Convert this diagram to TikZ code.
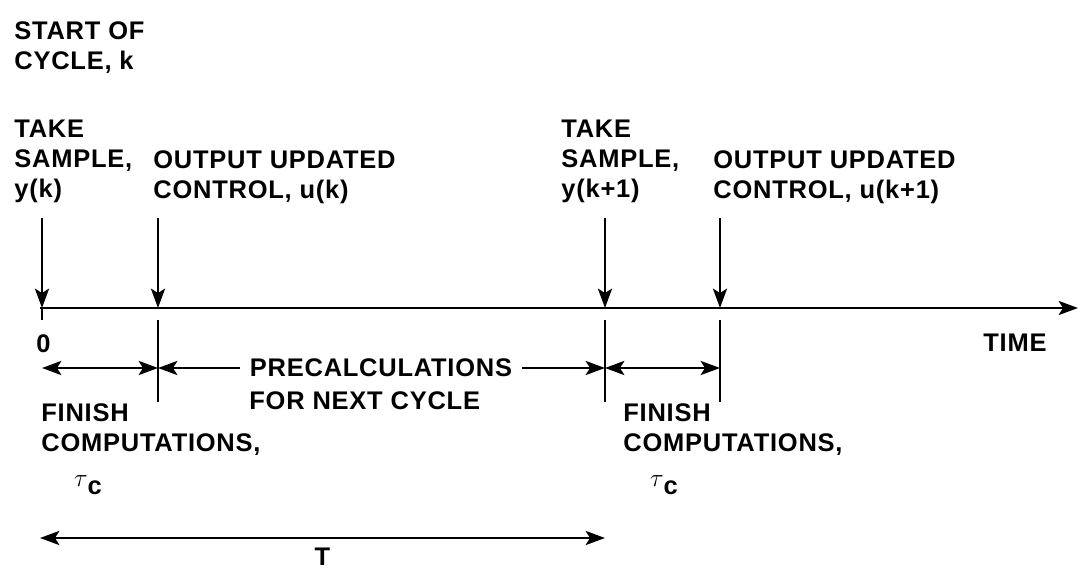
\documentclass[tikz,border=0pt]{standalone}
\usepackage{fontspec}
\setmainfont{Liberation Sans}[LetterSpace=3]
\usetikzlibrary{arrows.meta}
\begin{document}
\begin{tikzpicture}[x=0.02cm,y=-0.02cm,line width=1.6pt,
  every node/.style={font=\fontsize{14.5}{17}\selectfont\bfseries,inner sep=0pt,align=left},
  tip/.style={-{Stealth[length=11pt,width=8pt,inset=2.5pt]}},
  twotip/.style={{Stealth[length=11pt,width=8pt,inset=2.5pt]}-{Stealth[length=11pt,width=8pt,inset=2.5pt]}}]
\useasboundingbox (0,0) rectangle (1080,578);
% labels above the time axis
\node[anchor=north west] (start) at (13,20) {START OF\\CYCLE, k};
\node[anchor=north west] (samp0) at (13,119) {TAKE\\SAMPLE,\\y(k)};
\node[anchor=north west] (out0) at (152,149) {OUTPUT UPDATED\\CONTROL, u(k)};
\node[anchor=north west] (samp1) at (560,119) {TAKE\\SAMPLE,\\y(k+1)};
\node[anchor=north west] (out1) at (712,149) {OUTPUT UPDATED\\CONTROL, u(k+1)};
% time axis and events
\coordinate (orig) at (40,308);
\coordinate (tend) at (1078,308);
\draw[tip] (orig) -- (tend);
\foreach \n/\x in {0/42,1/158,2/605,3/720} {
  \coordinate (ev\n) at (\x,308);
  \coordinate (top\n) at (\x,218);
  \coordinate (dim\n) at (\x,368);
  \draw[tip] (top\n) -- (ev\n);
}
\draw (ev0) -- ++(0,12);
\foreach \n in {1,2,3} \draw ([yshift=-7]ev\n) -- ++(0,82);
\node[anchor=north west] (zero) at (35,333) {0};
\node[anchor=north west] (time) at (982,333) {TIME};
% intervals below the axis
\draw[twotip] (dim0) -- (dim1);
\draw[twotip] (dim2) -- (dim3);
\node[inner xsep=5pt] (precalc) at (381,368) {PRECALCULATIONS};
\node[anchor=north west] (nextcyc) at (248,390) {FOR NEXT CYCLE};
\draw[tip] (precalc.west) -- (dim1);
\draw[tip] (precalc.east) -- (dim2);
\node[anchor=north west] (fin0) at (40,402) {FINISH\\COMPUTATIONS,};
\node[anchor=north west] (fin1) at (622,402) {FINISH\\COMPUTATIONS,};
\node (tau0) at (88,485) {$\tau$\raisebox{-0.6ex}{c}};
\node (tau1) at (664,485) {$\tau$\raisebox{-0.6ex}{c}};
% cycle period
\coordinate (per0) at (40,538);
\coordinate (per1) at (605,538);
\draw[twotip] (per0) -- (per1) node[midway,below=5pt] (per) {T};
\end{tikzpicture}
\end{document}
